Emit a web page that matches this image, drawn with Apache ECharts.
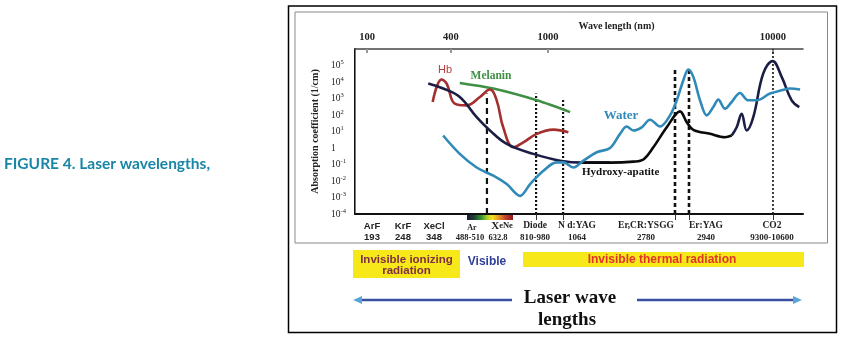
<!DOCTYPE html>
<html>
<head>
<meta charset="utf-8">
<script src="https://cdn.jsdelivr.net/npm/echarts@6/dist/echarts.min.js"></script>
<style>
html,body{margin:0;padding:0;background:#fff;}
#chart{width:843px;height:342px;}
</style>
</head>
<body>
<div id="chart"></div>
<script>
// ---- data (wavelength in nm, absorption coefficient in 1/cm) ----
const topTickWavelengths = [100, 400, 1000, 10000];
const yTickValues = [1e-4, 1e-3, 1e-2, 1e-1, 1, 1e1, 1e2, 1e3, 1e4, 1e5];

const hbData = [[296,612],[343,14200],[373,8100],[415,489],[463,385],[526,1235],[578,3490],[616,776],[655,18],[721,1.1],[792,2.2],[899,7.2],[1056,13],[1231,9.1]];
const melaninData = [[435,8800],[597,4000],[899,780],[1253,150]];
const tissueLeftData = [[275,8100],[352,4020],[435,1235],[510,74],[578,11.5],[677,1.78],[870,0.44],[1131,0.17],[1435,0.13],[1886,0.13]];
const hydroxyData = [[1435,0.13],[1886,0.13],[2400,0.15],[2652,0.2],[2938,1.1],[3370,18],[3860,166],[4134,37],[4423,12.7],[5248,7.2],[6116,4.5],[6551,5.7]];
const tissueRightData = [[6551,5.7],[6896,18],[7256,120],[7638,11.5],[8173,74],[9054,33000],[9968,185000],[10930,20500],[12106,776],[13090,303]];
const waterData = [[352,5.7],[435,0.44],[510,0.066],[597,0.021],[677,0.0065],[768,0.00125],[844,0.0065],[957,0.042],[1093,0.134],[1169,0.134],[1296,0.066],[1435,0.17],[1646,0.55],[1886,1.0],[2089,7.2],[2238,20],[2394,11.5],[2609,18],[2840,52],[3145,20],[3485,95],[3733,776],[3994,12900],[4203,57800],[4423,20500],[4738,776],[5074,95],[5428,303],[5713,857],[6116,242],[6551,612],[7133,2160],[7767,776],[8463,776],[9696,1990],[10930,3160],[11900,4020],[13200,3490]];

// laser marker lines: wavelength and top absorption value reached by the line
const laserLineWavelengths = [562, 893, 1166, 3667, 4232, 10000];
const laserLineTops = [2000, 2000, 900, 70000, 50000, 1e6];
const laserTickWavelengths = [893, 1166, 3667, 4232, 10000];

const laserNames = ['ArF','KrF','XeCl','Ar','XeNe','Diode','N d:YAG','Er,CR:YSGG','Er:YAG','CO2'];
const laserRanges = ['193','248','348','488-510','632.8','810-980','1064','2780','2940','9300-10600'];

// ---- axis geometry (the drawing's wavelength scale is non-uniform) ----
const axisAnchorPos = [2.7, 21.4, 43.1, 93.3]; // percent of axis length at the top tick wavelengths
function warp(wl){
  const L = Math.log10(wl);
  const la = topTickWavelengths.map(Math.log10);
  let i = L < la[1] ? 0 : (L < la[2] ? 1 : 2);
  return axisAnchorPos[i] + (L - la[i]) / (la[i+1] - la[i]) * (axisAnchorPos[i+1] - axisAnchorPos[i]);
}
const W = arr => arr.map(p => [warp(p[0]), p[1]]);

const serif = '"Liberation Serif", "DejaVu Serif", serif';
const sans = '"Liberation Sans", Arial, sans-serif';

function curve(name, data, color, width, smooth){
  return {name, type:'line', data:W(data), smooth:smooth, symbol:'none', z:5,
    lineStyle:{color, width}, itemStyle:{color}, silent:true, animation:false};
}
const lineStyles = [
  {type:[6,4], width:2.2},
  {type:[2,2], width:2.2},
  {type:[2,2], width:2.2},
  {type:[4,3], width:2.6},
  {type:[4,3], width:2.6},
  {type:[2,2], width:1.6}
];
const vSeries = laserLineWavelengths.map((wl,i) => ({
  type:'line', symbol:'none', z:3, silent:true, animation:false,
  data:[[warp(wl),1e-4],[warp(wl),laserLineTops[i]]],
  lineStyle:{color:'#111', width:lineStyles[i].width, type:lineStyles[i].type}
}));

const chart = echarts.init(document.getElementById('chart'), null, {renderer:'canvas'});

// label positions (pixels) for the laser captions under the plot
const labelX = [372, 403, 434, 472, 502, 535, 577, 646, 706, 772];
const laserGraphics = [];
laserNames.forEach((n,i) => {
  const isSans = i < 3;
  const small = (i === 3 || i === 4);
  const font1 = isSans ? 'bold 9.5px ' + sans : (small ? 'bold 8px ' + serif : 'bold 9.5px ' + serif);
  const font2 = isSans ? 'bold 9.5px ' + sans : (small ? 'bold 8.5px ' + serif : 'bold 9px ' + serif);
  if (i === 4) {
    laserGraphics.push({type:'text', x:labelX[i], y:226, silent:true, style:{
      text:'{a|X}{b|eNe}', align:'center', verticalAlign:'middle', textAlign:'center', textVerticalAlign:'middle',
      rich:{a:{font:'bold 11px ' + serif, fill:'#222'}, b:{font:'bold 8.5px ' + serif, fill:'#222'}}}});
  } else {
    laserGraphics.push({type:'text', x:labelX[i], y:small ? 227.5 : 226, silent:true, style:{
      text:n, font:font1, fill:'#222', align:'center', verticalAlign:'middle', textAlign:'center', textVerticalAlign:'middle'}});
  }
  const x2 = i === 4 ? 498 : (i === 3 ? 470 : labelX[i]);
  laserGraphics.push({type:'text', x:x2, y:237.5, silent:true, style:{
    text:laserRanges[i], font:font2, fill:'#222', align:'center', verticalAlign:'middle', textAlign:'center', textVerticalAlign:'middle'}});
});

function T(text, x, y, font, fill, align){
  return {type:'text', x, y, silent:true, z:20, style:{text, font, fill, align:align||'left', textAlign:align||'left', verticalAlign:'middle', textVerticalAlign:'middle'}};
}

const option = {
  animation:false,
  backgroundColor:'#ffffff',
  grid:{left:355, top:49, width:448, height:165, containLabel:false},
  xAxis:[
    {type:'value', position:'bottom', min:0, max:100,
     axisLine:{show:true, lineStyle:{color:'#111', width:2}},
     axisTick:{show:true, customValues:laserTickWavelengths.map(warp), length:6, inside:false, lineStyle:{color:'#333', width:1}},
     axisLabel:{show:false}, splitLine:{show:false}},
    {type:'value', position:'top', min:0, max:100,
     axisLine:{show:true, lineStyle:{color:'#444', width:1.5}},
     axisTick:{show:true, customValues:topTickWavelengths.map(warp), length:4, inside:true, lineStyle:{color:'#999', width:2}},
     axisLabel:{show:true, customValues:topTickWavelengths.map(warp), margin:6,
       fontFamily:serif, fontWeight:'bold', fontSize:10.5, color:'#222',
       formatter:function(v){
         let best=0, d=1e9;
         axisAnchorPos.forEach((p,i)=>{ if (Math.abs(p-v)<d){d=Math.abs(p-v); best=i;} });
         return String(topTickWavelengths[best]);
       }},
     splitLine:{show:false}}
  ],
  yAxis:[
    {type:'log', logBase:10, min:1e-4, max:1e6, position:'left',
     name:'Absorption coefficient (1/cm)', nameLocation:'middle', nameGap:33, nameRotate:90,
     nameTextStyle:{fontFamily:serif, fontWeight:'bold', fontSize:10, color:'#222'},
     axisLine:{show:true, lineStyle:{color:'#111', width:2}},
     axisTick:{show:false},
     axisLabel:{show:true, customValues:yTickValues, align:'left', margin:24,
       formatter:function(v){
         const e = Math.round(Math.log10(v));
         if (e === 0) return '{b|1}';
         return '{b|10}{s|' + e + '}';
       },
       rich:{
         b:{fontFamily:serif, fontSize:9.5, color:'#222', lineHeight:13},
         s:{fontFamily:serif, fontSize:6.5, color:'#222', lineHeight:13, verticalAlign:'top'}
       }},
     splitLine:{show:false}},
    {type:'log', logBase:10, min:1e-4, max:1e6, position:'right',
     axisLine:{show:true, lineStyle:{color:'#777', width:1}},
     axisTick:{show:false}, axisLabel:{show:false}, splitLine:{show:false}}
  ],
  series:[].concat(vSeries, [
    curve('Melanin', melaninData, '#3f8f45', 2.6, 0.3),
    curve('Hb', hbData, '#a3302e', 2.6, 0.4),
    curve('Tissue', tissueLeftData, '#1b1d45', 2.6, 0.4),
    curve('Hydroxy-apatite', hydroxyData, '#0a0a0a', 2.6, 0.35),
    curve('Tissue IR', tissueRightData, '#1b1d45', 2.6, 0.4),
    curve('Water', waterData, '#2f8ab8', 2.6, 0.35)
  ]),
  graphic:[
    {type:'rect', silent:true, z:-10, shape:{x:288.5, y:6, width:548, height:326.5}, style:{fill:null, stroke:'#000', lineWidth:1.5}},
    {type:'rect', silent:true, z:-10, shape:{x:295, y:12, width:532.5, height:231}, style:{fill:null, stroke:'#8a8a8a', lineWidth:1}},
    T('FIGURE 4. Laser wavelengths,', 4, 164, 'bold 15.5px Lato', '#1a86a7'),
    T('Wave length (nm)', 616.5, 26.5, 'bold 10px ' + serif, '#222', 'center'),
    T('Hb', 445, 70, '11px ' + sans, '#b8403e', 'center'),
    T('Melanin', 491, 76, 'bold 11.5px ' + serif, '#3f8f45', 'center'),
    T('Water', 621, 115.5, 'bold 13px ' + serif, '#2f8ab8', 'center'),
    T('Hydroxy-apatite', 582, 172, 'bold 11px ' + serif, '#111', 'left'),
    {type:'rect', silent:true, shape:{x:467, y:215, width:46, height:5}, style:{fill:{type:'linear', x:0, y:0, x2:1, y2:0, colorStops:[
      {offset:0, color:'#1a1a3a'},{offset:0.15, color:'#1d3d30'},{offset:0.3, color:'#2f8f2f'},{offset:0.45, color:'#b8d42a'},
      {offset:0.55, color:'#f2e51a'},{offset:0.7, color:'#e8902a'},{offset:0.85, color:'#c0392b'},{offset:1, color:'#8b1a1a'}]}}},
    {type:'rect', silent:true, shape:{x:353, y:250, width:107, height:28}, style:{fill:'#f7e81a'}},
    T('Invisible ionizing', 406.5, 259.5, 'bold 11.5px ' + sans, '#7d2e46', 'center'),
    T('radiation', 406.5, 271, 'bold 11.5px ' + sans, '#7d2e46', 'center'),
    T('Visible', 487, 262, 'bold 12px ' + sans, '#2f3f9a', 'center'),
    {type:'rect', silent:true, shape:{x:523, y:252, width:281, height:15}, style:{fill:'#f7e81a'}},
    T('Invisible thermal radiation', 662, 259.5, 'bold 12px ' + sans, '#e3342a', 'center'),
    {type:'line', silent:true, shape:{x1:360, y1:300, x2:512, y2:300}, style:{stroke:'#3b4fa0', lineWidth:2.5}},
    {type:'polygon', silent:true, shape:{points:[[353,300],[362,296],[362,304]]}, style:{fill:'#5aa5d8'}},
    {type:'line', silent:true, shape:{x1:637, y1:300, x2:795, y2:300}, style:{stroke:'#3b4fa0', lineWidth:2.5}},
    {type:'polygon', silent:true, shape:{points:[[802,300],[793,296],[793,304]]}, style:{fill:'#5aa5d8'}},
    T('Laser wave', 570, 298, 'bold 19px ' + serif, '#111', 'center'),
    T('lengths', 567, 320, 'bold 19px ' + serif, '#111', 'center')
  ].concat(laserGraphics)
};
chart.setOption(option);
</script>
</body>
</html>
